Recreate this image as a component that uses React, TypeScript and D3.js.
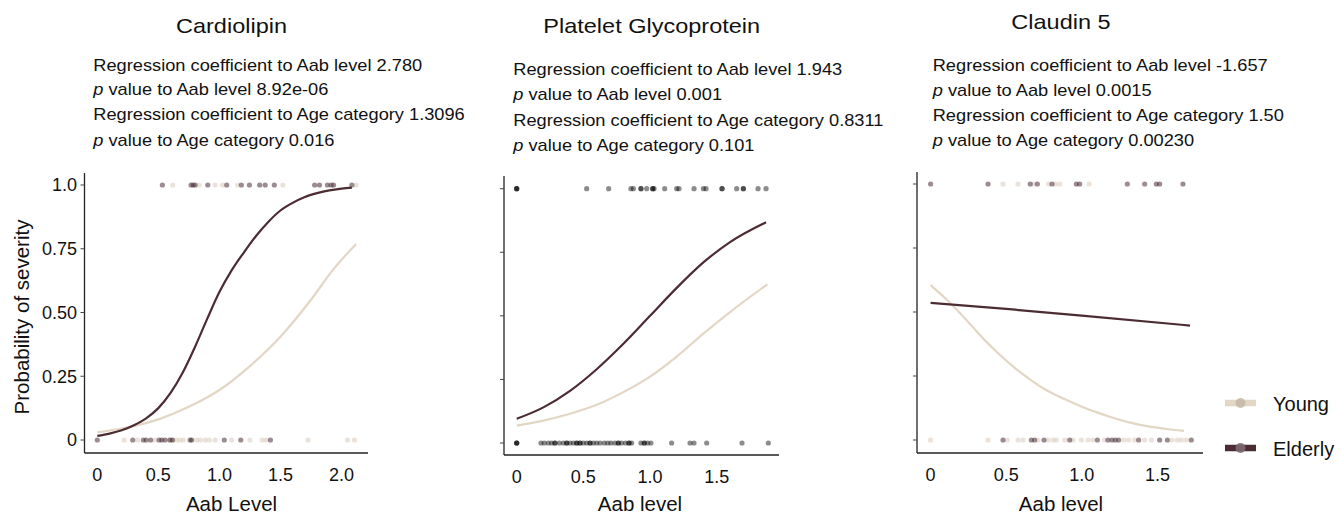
import React from "react";
import * as d3 from "d3";

// ---------- DATA ----------
const panelTitles = ["Cardiolipin", "Platelet Glycoprotein", "Claudin 5"];
const statsAabCoef = ["2.780", "1.943", "-1.657"];
const statsAabP = ["8.92e-06", "0.001", "0.0015"];
const statsAgeCoef = ["1.3096", "0.8311", "1.50"];
const statsAgeP = ["0.016", "0.101", "0.00230"];
const xAxisTitles = ["Aab Level", "Aab level", "Aab level"];
const yAxisTitle = "Probability of severity";
const legendLabels = ["Young", "Elderly"];

const xTicks1 = [0, 0.5, 1.0, 1.5, 2.0];
const xTickLabels1 = ["0", "0.5", "1.0", "1.5", "2.0"];
const xTicks23 = [0, 0.5, 1.0, 1.5];
const xTickLabels23 = ["0", "0.5", "1.0", "1.5"];
const yTicks = [0, 0.25, 0.5, 0.75, 1.0];
const yTickLabels = ["0", "0.25", "0.50", "0.75", "1.0"];

// Cardiolipin
const cardioElderlySevere = [0.533, 0.768, 0.785, 0.801, 0.905, 1.06, 1.18, 1.246, 1.33, 1.375, 1.45, 1.78, 1.82, 1.885, 1.915, 1.935, 2.085];
const cardioYoungSevere = [0.618, 0.834, 0.965, 1.025, 1.15, 1.52, 2.12];
const cardioElderlyMild = [0.0, 0.29, 0.377, 0.40, 0.437, 0.506, 0.528, 0.555, 0.596, 0.615, 0.76, 0.773, 1.04, 1.175, 1.418];
const cardioYoungMild = [0.22, 0.33, 0.473, 0.59, 0.62, 0.65, 0.678, 0.705, 0.815, 0.842, 0.883, 0.918, 0.965, 1.10, 1.25, 1.35, 1.383, 1.725, 2.05, 2.107];
const cardioElderlyCurveX = [0, 0.1, 0.2, 0.3, 0.4, 0.5, 0.6, 0.7, 0.8, 0.9, 1.0, 1.1, 1.2, 1.3, 1.4, 1.5, 1.6, 1.7, 1.8, 1.9, 2.0, 2.085];
const cardioElderlyCurveY = [0.016, 0.025, 0.038, 0.058, 0.085, 0.125, 0.185, 0.265, 0.365, 0.475, 0.58, 0.665, 0.735, 0.80, 0.855, 0.90, 0.93, 0.953, 0.968, 0.979, 0.986, 0.99];
const cardioYoungCurveX = [0, 0.25, 0.5, 0.75, 1.0, 1.25, 1.5, 1.75, 1.93, 2.12];
const cardioYoungCurveY = [0.03, 0.05, 0.081, 0.13, 0.196, 0.29, 0.405, 0.55, 0.667, 0.769];

// Platelet Glycoprotein
const plateletSevere = [0, 0, 0, 0.525, 0.69, 0.857, 0.875, 0.932, 0.932, 0.975, 1.02, 1.02, 1.03, 1.11, 1.2, 1.217, 1.33, 1.40, 1.42, 1.54, 1.54, 1.65, 1.70, 1.70, 1.81, 1.87];
const plateletMild = [0, 0, 0, 0.182, 0.207, 0.237, 0.262, 0.287, 0.287, 0.32, 0.35, 0.375, 0.375, 0.40, 0.425, 0.45, 0.45, 0.475, 0.475, 0.50, 0.525, 0.55, 0.55, 0.575, 0.60, 0.625, 0.657, 0.683, 0.707, 0.737, 0.762, 0.762, 0.787, 0.817, 0.842, 0.842, 0.862, 0.932, 0.957, 0.957, 0.982, 1.007, 1.162, 1.30, 1.33, 1.425, 1.69, 1.887];
const plateletElderlyCurveX = [0, 0.2, 0.4, 0.6, 0.8, 1.0, 1.2, 1.4, 1.6, 1.87];
const plateletElderlyCurveY = [0.095, 0.14, 0.205, 0.29, 0.39, 0.5, 0.61, 0.71, 0.79, 0.868];
const plateletYoungCurveX = [0, 0.2, 0.4, 0.6, 0.8, 1.0, 1.2, 1.4, 1.6, 1.88];
const plateletYoungCurveY = [0.068, 0.088, 0.115, 0.15, 0.2, 0.261, 0.34, 0.43, 0.515, 0.624];

// Claudin 5
const claudinElderlySevere = [0.0, 0.38, 0.659, 0.706, 0.803, 0.964, 0.986, 1.301, 1.416, 1.493, 1.515, 1.669];
const claudinYoungSevere = [0.479, 0.578, 0.682, 0.781, 0.825, 0.854, 1.048];
const claudinElderlyMild = [0.479, 0.666, 0.688, 0.75, 0.92, 1.103, 1.173, 1.2, 1.222, 1.244, 1.376, 1.515, 1.566, 1.724];
const claudinYoungMild = [0, 0.38, 0.507, 0.578, 0.611, 0.71, 0.776, 0.81, 0.831, 0.887, 0.942, 0.997, 1.041, 1.074, 1.151, 1.279, 1.31, 1.35, 1.416, 1.46, 1.597, 1.632, 1.658, 1.691];
const claudinElderlyCurveX = [0, 0.5, 1.0, 1.716];
const claudinElderlyCurveY = [0.536, 0.512, 0.486, 0.447];
const claudinYoungCurveX = [0, 0.128, 0.25, 0.35, 0.459, 0.55, 0.65, 0.75, 0.9, 1.0, 1.1, 1.2, 1.34, 1.45, 1.55, 1.676];
const claudinYoungCurveY = [0.605, 0.536, 0.46, 0.395, 0.332, 0.285, 0.24, 0.2, 0.156, 0.13, 0.108, 0.088, 0.065, 0.052, 0.044, 0.036];

// ---------- STYLE ----------
const FONT = "'Liberation Sans', Arial, Helvetica, sans-serif";
const ELDERLY = "#4b2c33";
const YOUNG = "#e2d6c5";
const ELDERLY_PT = "rgba(75,45,55,0.55)";
const YOUNG_PT = "rgba(215,200,183,0.5)";
const GREY_PT = "rgba(0,0,0,0.45)";

type Pts = { xs: number[]; y: number; fill: string };
type Curve = { xs: number[]; ys: number[]; color: string };

interface PanelCfg {
  title: string; titleX: number; titleY: number;
  statsX: number; statsY: number[];
  aabCoef: string; aabP: string; ageCoef: string; ageP: string;
  axisX: number; axisTop: number; axisY: number; axisRight: number;
  xDomain: [number, number]; xRange: [number, number];
  yRange: [number, number];
  xTicks: number[]; xTickLabels: string[];
  showYLabels: boolean;
  xTitle: string; xTitleX: number;
  points: Pts[]; curves: Curve[];
}

const panels: PanelCfg[] = [
  {
    title: panelTitles[0], titleX: 231.5, titleY: 33,
    statsX: 93.3, statsY: [71, 95, 120, 146],
    aabCoef: statsAabCoef[0], aabP: statsAabP[0], ageCoef: statsAgeCoef[0], ageP: statsAgeP[0],
    axisX: 84.5, axisTop: 173, axisY: 453, axisRight: 368,
    xDomain: [0, 2], xRange: [97.3, 341.5], yRange: [440, 185],
    xTicks: xTicks1, xTickLabels: xTickLabels1, showYLabels: true,
    xTitle: xAxisTitles[0], xTitleX: 231.5,
    points: [
      { xs: cardioYoungMild, y: 0, fill: YOUNG_PT },
      { xs: cardioYoungSevere, y: 1, fill: YOUNG_PT },
      { xs: cardioElderlyMild, y: 0, fill: ELDERLY_PT },
      { xs: cardioElderlySevere, y: 1, fill: ELDERLY_PT },
    ],
    curves: [
      { xs: cardioYoungCurveX, ys: cardioYoungCurveY, color: YOUNG },
      { xs: cardioElderlyCurveX, ys: cardioElderlyCurveY, color: ELDERLY },
    ],
  },
  {
    title: panelTitles[1], titleX: 651.7, titleY: 33,
    statsX: 513.3, statsY: [75, 100, 126, 151],
    aabCoef: statsAabCoef[1], aabP: statsAabP[1], ageCoef: statsAgeCoef[1], ageP: statsAgeP[1],
    axisX: 504, axisTop: 176, axisY: 455, axisRight: 779,
    xDomain: [0, 1.5], xRange: [516.7, 716.7], yRange: [443, 188.7],
    xTicks: xTicks23, xTickLabels: xTickLabels23, showYLabels: false,
    xTitle: xAxisTitles[1], xTitleX: 640,
    points: [
      { xs: plateletMild, y: 0, fill: GREY_PT },
      { xs: plateletSevere, y: 1, fill: GREY_PT },
    ],
    curves: [
      { xs: plateletYoungCurveX, ys: plateletYoungCurveY, color: YOUNG },
      { xs: plateletElderlyCurveX, ys: plateletElderlyCurveY, color: ELDERLY },
    ],
  },
  {
    title: panelTitles[2], titleX: 1061, titleY: 28.5,
    statsX: 932.7, statsY: [71, 96, 121, 146],
    aabCoef: statsAabCoef[2], aabP: statsAabP[2], ageCoef: statsAgeCoef[2], ageP: statsAgeP[2],
    axisX: 917, axisTop: 172, axisY: 453, axisRight: 1203,
    xDomain: [0, 1.5], xRange: [930.6, 1157.4], yRange: [440, 184],
    xTicks: xTicks23, xTickLabels: xTickLabels23, showYLabels: false,
    xTitle: xAxisTitles[2], xTitleX: 1061,
    points: [
      { xs: claudinYoungMild, y: 0, fill: YOUNG_PT },
      { xs: claudinYoungSevere, y: 1, fill: YOUNG_PT },
      { xs: claudinElderlyMild, y: 0, fill: ELDERLY_PT },
      { xs: claudinElderlySevere, y: 1, fill: ELDERLY_PT },
    ],
    curves: [
      { xs: claudinYoungCurveX, ys: claudinYoungCurveY, color: YOUNG },
      { xs: claudinElderlyCurveX, ys: claudinElderlyCurveY, color: ELDERLY },
    ],
  },
];

const STATS_SCALE = 1.14;
const TITLE_SCALE = 1.12;

function Panel({ cfg }: { cfg: PanelCfg }) {
  const x = d3.scaleLinear().domain(cfg.xDomain).range(cfg.xRange);
  const y = d3.scaleLinear().domain([0, 1]).range(cfg.yRange);
  const line = d3
    .line<[number, number]>()
    .x((d) => x(d[0]))
    .y((d) => y(d[1]))
    .curve(d3.curveMonotoneX);

  const statLines: React.ReactNode[] = [
    <>Regression coefficient to Aab level {cfg.aabCoef}</>,
    <><tspan fontStyle="italic">p</tspan> value to Aab level {cfg.aabP}</>,
    <>Regression coefficient to Age category {cfg.ageCoef}</>,
    <><tspan fontStyle="italic">p</tspan> value to Age category {cfg.ageP}</>,
  ];

  return (
    <g>
      <text
        transform={`translate(${cfg.titleX},${cfg.titleY}) scale(${TITLE_SCALE},1)`}
        textAnchor="middle"
        fontSize={21}
        fill="#111"
      >
        {cfg.title}
      </text>
      {statLines.map((s, i) => (
        <text
          key={i}
          transform={`translate(${cfg.statsX},${cfg.statsY[i]}) scale(${STATS_SCALE},1)`}
          fontSize={16}
          fill="#111"
        >
          {s}
        </text>
      ))}

      {/* points */}
      {cfg.points.map((p, i) =>
        p.xs.map((v, j) => (
          <circle key={`${i}-${j}`} cx={x(v)} cy={y(p.y)} r={2.6} fill={p.fill} />
        ))
      )}

      {/* curves */}
      {cfg.curves.map((c, i) => (
        <path
          key={i}
          d={line(c.xs.map((v, k) => [v, c.ys[k]] as [number, number])) || ""}
          fill="none"
          stroke={c.color}
          strokeWidth={2.2}
        />
      ))}

      {/* axes */}
      <line x1={cfg.axisX} x2={cfg.axisX} y1={cfg.axisTop} y2={cfg.axisY} stroke="#222" strokeWidth={1.3} />
      <line x1={cfg.axisX} x2={cfg.axisRight} y1={cfg.axisY} y2={cfg.axisY} stroke="#222" strokeWidth={1.3} />
      {yTicks.map((t, i) => (
        <g key={i}>
          <line x1={cfg.axisX - 4} x2={cfg.axisX} y1={y(t)} y2={y(t)} stroke="#444" strokeWidth={1} />
          {cfg.showYLabels && (
            <text x={cfg.axisX - 7.5} y={y(t)} dy="0.36em" textAnchor="end" fontSize={18} fill="#111">
              {yTickLabels[i]}
            </text>
          )}
        </g>
      ))}
      {cfg.xTicks.map((t, i) => (
        <text key={i} x={x(t)} y={cfg.axisY + 28} textAnchor="middle" fontSize={18} fill="#111">
          {cfg.xTickLabels[i]}
        </text>
      ))}
      <text x={cfg.xTitleX} y={511} textAnchor="middle" fontSize={20.5} fill="#111">
        {cfg.xTitle}
      </text>
    </g>
  );
}

export default function App() {
  const legendColors = [YOUNG, ELDERLY];
  const legendDots = ["rgba(200,185,170,0.9)", "rgba(125,105,112,0.9)"];
  const legendY = [403, 448];
  return (
    <svg
      width={1341}
      height={517}
      style={{ position: "absolute", left: 0, top: 0, background: "#fff" }}
      fontFamily={FONT}
    >
      <rect width={1341} height={517} fill="#fff" />
      {panels.map((p, i) => (
        <Panel key={i} cfg={p} />
      ))}
      <text
        transform="translate(28.5,317) rotate(-90)"
        textAnchor="middle"
        fontSize={20.5}
        fill="#111"
      >
        {yAxisTitle}
      </text>
      {legendLabels.map((lab, i) => (
        <g key={lab}>
          <line x1={1225} x2={1256} y1={legendY[i]} y2={legendY[i]} stroke={legendColors[i]} strokeWidth={6.5} />
          <circle cx={1240.5} cy={legendY[i]} r={5} fill={legendDots[i]} />
          <text x={1273} y={legendY[i] + 7.5} fontSize={20} fill="#111">
            {lab}
          </text>
        </g>
      ))}
    </svg>
  );
}
